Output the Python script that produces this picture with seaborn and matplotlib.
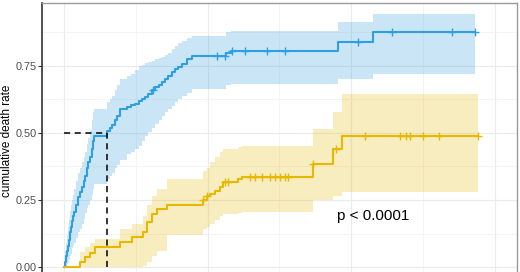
import numpy as np
import pandas as pd
import matplotlib
matplotlib.use("Agg")
import matplotlib.pyplot as plt
import seaborn as sns

# cumulative death rate, step times and values
blue_time = [0.14, 0.28, 0.42, 0.56, 0.70, 0.84, 0.97, 1.11, 1.25, 1.39, 1.67,
             1.95, 2.23, 2.51, 2.79, 2.92, 3.20, 3.34, 3.62, 3.90, 4.04, 4.18,
             5.99, 6.41, 6.69, 7.10, 7.38, 7.80, 8.77, 9.33, 9.89, 10.45, 10.86,
             11.28, 11.70, 12.26, 12.67, 13.23, 13.65, 14.07, 14.48, 15.04,
             15.46, 15.88, 16.43, 17.13, 17.83, 22.56, 23.26, 38.16, 43.04]
blue_rate = [0.02, 0.04, 0.06, 0.08, 0.10, 0.13, 0.15, 0.17, 0.19, 0.205, 0.23,
             0.26, 0.28, 0.30, 0.32, 0.34, 0.37, 0.39, 0.41, 0.44, 0.47, 0.49,
             0.507, 0.52, 0.53, 0.55, 0.565, 0.59, 0.597, 0.603, 0.61, 0.62,
             0.627, 0.635, 0.645, 0.66, 0.67, 0.68, 0.69, 0.70, 0.713, 0.727,
             0.739, 0.745, 0.757, 0.776, 0.787, 0.797, 0.806, 0.84, 0.877]
blue_upper = [0.06, 0.09, 0.12, 0.15, 0.18, 0.21, 0.23, 0.25, 0.27, 0.29, 0.32,
              0.35, 0.37, 0.39, 0.41, 0.43, 0.46, 0.48, 0.51, 0.55, 0.58, 0.59,
              0.615, 0.625, 0.638, 0.66, 0.68, 0.70, 0.713, 0.72, 0.735, 0.75,
              0.755, 0.76, 0.765, 0.77, 0.775, 0.78, 0.785, 0.79, 0.80, 0.815,
              0.825, 0.835, 0.845, 0.855, 0.862, 0.875, 0.88, 0.914, 0.944]
blue_lower = [0.0, 0.005, 0.01, 0.02, 0.03, 0.04, 0.05, 0.07, 0.08, 0.09, 0.11,
              0.13, 0.14, 0.16, 0.18, 0.20, 0.22, 0.23, 0.25, 0.27, 0.29, 0.31,
              0.33, 0.34, 0.35, 0.37, 0.38, 0.40, 0.42, 0.43, 0.44, 0.45, 0.47,
              0.49, 0.505, 0.52, 0.535, 0.55, 0.565, 0.58, 0.59, 0.60, 0.615,
              0.625, 0.638, 0.65, 0.664, 0.678, 0.683, 0.70, 0.72]
blue_end = 57.24
blue_censor = [12.4, 21.3, 22.4, 23.4, 25.2, 28.3, 30.8, 40.9, 45.7, 54.0, 57.24]

yellow_time = [2.23, 2.92, 3.62, 4.32, 7.80, 9.47, 11.0, 11.56, 12.26, 12.95,
               14.35, 19.36, 19.92, 20.33, 21.03, 21.73, 22.14, 24.23, 24.79,
               34.68, 37.47, 38.72]
yellow_rate = [0.018, 0.037, 0.052, 0.075, 0.093, 0.112, 0.13, 0.168, 0.198,
               0.216, 0.232, 0.25, 0.265, 0.272, 0.285, 0.30, 0.317, 0.328,
               0.336, 0.384, 0.44, 0.489]
yellow_upper = [0.055, 0.075, 0.09, 0.105, 0.14, 0.16, 0.19, 0.23, 0.265, 0.29,
                0.33, 0.36, 0.37, 0.39, 0.41, 0.43, 0.44, 0.448, 0.45, 0.515,
                0.578, 0.645]
yellow_lower = [0.0, 0.0, 0.0, 0.0, 0.0, 0.0, 0.005, 0.02, 0.04, 0.06, 0.12,
                0.14, 0.15, 0.16, 0.175, 0.19, 0.198, 0.203, 0.205, 0.25, 0.265,
                0.28]
yellow_end = 57.66
yellow_censor = [19.36, 19.92, 22.42, 22.84, 25.91, 26.60, 27.58, 28.69, 29.39,
                 30.08, 30.78, 31.20, 34.68, 37.88, 41.92, 46.80, 47.63, 48.19,
                 50.0, 52.23, 57.66]

PALETTE = {"blue": "#2E9FDF", "yellow": "#E7B800"}
P_TEXT = "p < 0.0001"


def _curva(nome, tempos, taxas, sup, inf, fim):
    t = np.r_[0.0, tempos, fim]
    y = np.r_[0.0, taxas, taxas[-1]]
    hi = np.r_[0.0, sup, sup[-1]]
    lo = np.r_[0.0, inf, inf[-1]]
    return pd.DataFrame({"time": t, "rate": y, "upper": hi, "lower": lo, "group": nome})


def _valor_em(df, tempos):
    idx = np.searchsorted(df["time"].to_numpy(), tempos, side="right") - 1
    return df["rate"].to_numpy()[idx]


sns.set_theme(style="white")
plt.rcParams["font.family"] = ["Liberation Sans", "DejaVu Sans"]

curvas = {
    "blue": _curva("blue", blue_time, blue_rate, blue_upper, blue_lower, blue_end),
    "yellow": _curva("yellow", yellow_time, yellow_rate, yellow_upper, yellow_lower, yellow_end),
}
censuras = {"blue": blue_censor, "yellow": yellow_censor}
df = pd.concat(curvas.values(), ignore_index=True)

fig = plt.figure(figsize=(5.2, 2.72), dpi=100)
# the panel runs past the lower edge of the picture, as in the reference crop
ax = fig.add_axes([42 / 520, 1 - 279.6 / 272, 475 / 520, 276.6 / 272])

ax.set_xlim(-3.06, 63.1)
ax.set_ylim(-0.047, 0.985)
ax.set_xticks([0, 20, 40, 60])
ax.set_xticks([10, 30, 50], minor=True)
ax.set_yticks([0, 0.25, 0.5, 0.75])
ax.set_yticks([0.125, 0.375, 0.625, 0.875], minor=True)
ax.set_yticklabels(["0.00", "0.25", "0.50", "0.75"])
ax.grid(which="major", color="#ebebeb", lw=0.8)
ax.grid(which="minor", color="#f3f3f3", lw=0.6)
ax.set_axisbelow(True)

for nome, c in curvas.items():
    ax.fill_between(c["time"], c["lower"], c["upper"], step="post",
                    color=PALETTE[nome], alpha=0.25, lw=0)

sns.lineplot(data=df, x="time", y="rate", hue="group", palette=PALETTE,
             estimator=None, drawstyle="steps-post", lw=1.5, legend=False, ax=ax)

for nome, tempos in censuras.items():
    sns.scatterplot(x=tempos, y=_valor_em(curvas[nome], tempos), marker="+",
                    s=30, linewidth=1.0, color=PALETTE[nome], ax=ax, zorder=4)

# median survival of the blue group
b = curvas["blue"]
mediana = b.loc[b["rate"] >= 0.5, "time"].iloc[0]
ax.plot([0, mediana], [0.5, 0.5], color="black", lw=1.1, dashes=(4, 3))
ax.plot([mediana, mediana], [0, 0.5], color="black", lw=1.1, dashes=(4, 3))

ax.text(38.0, 0.175, P_TEXT, fontsize=11, ha="left", va="baseline", color="black")

ax.set_xlabel("")
ax.set_ylabel("cumulative death rate", fontsize=8.5, color="black")
ax.yaxis.set_label_coords(-0.06, 0.5)
ax.tick_params(axis="y", which="major", left=True, length=3, width=0.8,
               color="#333333", labelsize=7.8, labelcolor="#4d4d4d", pad=1)
ax.tick_params(axis="x", which="both", bottom=False, labelbottom=False)
for lado in ["top", "right"]:
    ax.spines[lado].set_color("#9a9a9a")
    ax.spines[lado].set_linewidth(1.0)
for lado in ["left", "bottom"]:
    ax.spines[lado].set_color("#333333")
    ax.spines[lado].set_linewidth(1.2)

fig.savefig("out.png", dpi=100)
plt.close(fig)
